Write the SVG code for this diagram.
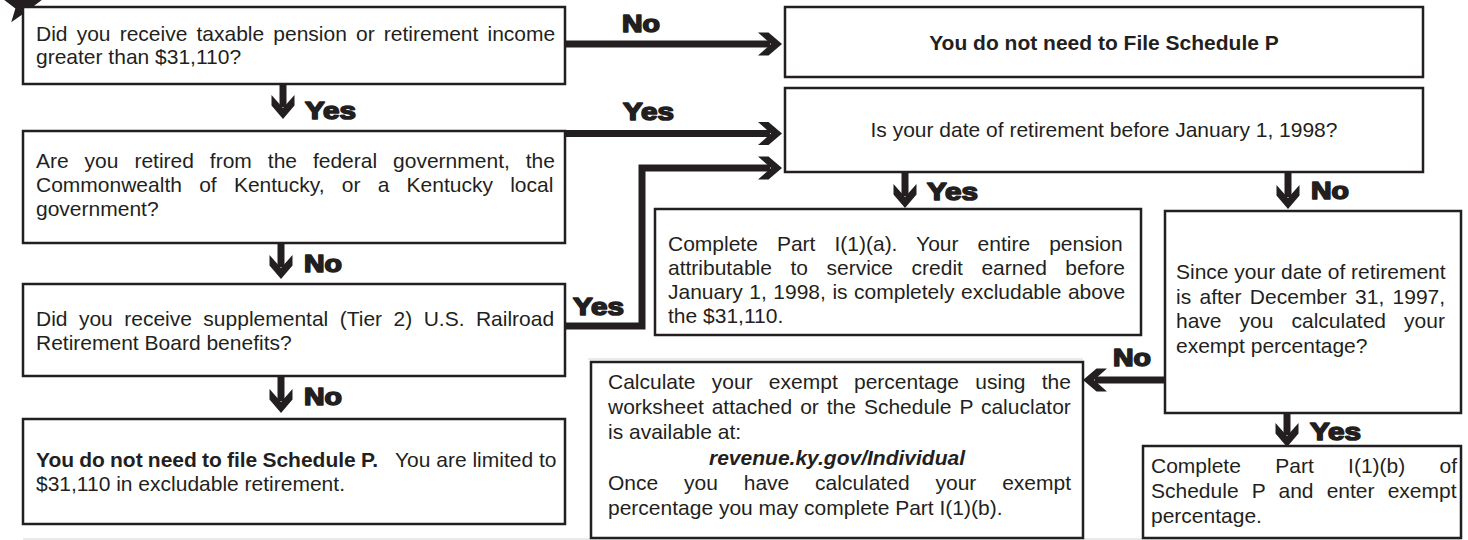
<svg xmlns="http://www.w3.org/2000/svg" xmlns:xlink="http://www.w3.org/1999/xlink" width="1468" height="540" viewBox="0 0 1468 540">
<style>
.box{fill:#fff;stroke:#231f20;stroke-width:2.5}
.t{font-family:"Liberation Sans",Arial,sans-serif;font-size:21px;fill:#231f20}
.b{font-weight:bold}
.bi{font-weight:bold;font-style:italic}
.lbl{font-family:"Liberation Sans",Arial,sans-serif;font-size:24px;font-weight:bold;fill:#231f20;stroke:#231f20;stroke-width:1.6;stroke-linejoin:round}
.shaft{fill:none;stroke:#231f20;stroke-width:7;stroke-linejoin:miter}
.chev{fill:#231f20}
.faint{stroke:#e3e3e3;stroke-width:1.5;fill:none}
</style>
<defs>
<polygon id="chev" class="chev" points="-24,-11.5 -13.5,-11.5 0,0 -13.5,11.5 -24,11.5 -11,0"/>
</defs>
<rect width="1468" height="540" fill="#fff"/>
<g id="faint-lines">
<line class="faint" x1="23" y1="539" x2="1461" y2="539"/>
<line class="faint" x1="588" y1="359" x2="1083" y2="359"/>
</g>
<g id="start-star">
<polygon fill="#231f20" points="23,-14 27.7,-0.5 42,-0.2 30.6,8.5 34.8,22.2 23,14 11.2,22.2 15.4,8.5 4,-0.2 18.3,-0.5"/>
</g>
<g id="q-taxable">
<rect class="box" x="23" y="7" width="542" height="77"/>
<text class="t" x="36" y="41" word-spacing="3.3">Did you receive taxable pension or retirement income</text>
<text class="t" x="36" y="64">greater than $31,110?</text>
</g>
<g id="end-no-file">
<rect class="box" x="785" y="7" width="638" height="70"/>
<text class="t b" x="1104" y="49.5" text-anchor="middle">You do not need to File Schedule P</text>
</g>
<g id="q-government">
<rect class="box" x="23" y="131" width="542" height="112"/>
<text class="t" x="36" y="168" word-spacing="10.1">Are you retired from the federal government, the</text>
<text class="t" x="36" y="192" word-spacing="11.4">Commonwealth of Kentucky, or a Kentucky local</text>
<text class="t" x="36" y="216">government?</text>
</g>
<g id="q-date">
<rect class="box" x="785" y="88" width="638" height="84"/>
<text class="t" x="1104" y="137" text-anchor="middle">Is your date of retirement before January 1, 1998?</text>
</g>
<g id="q-railroad">
<rect class="box" x="23" y="284" width="542" height="92"/>
<text class="t" x="36" y="326" word-spacing="5.6">Did you receive supplemental (Tier 2) U.S. Railroad</text>
<text class="t" x="36" y="350">Retirement Board benefits?</text>
</g>
<g id="end-limited">
<rect class="box" x="23" y="419" width="542" height="105"/>
<text class="t b" x="36" y="467" word-spacing="-0.7">You do not need to file Schedule P.</text>
<text class="t" x="395" y="467">You are limited to</text>
<text class="t" x="36" y="491">$31,110 in excludable retirement.</text>
</g>
<g id="part-1a">
<rect class="box" x="655" y="209" width="486" height="126"/>
<text class="t" x="668" y="251" word-spacing="13.2">Complete Part I(1)(a). Your entire pension</text>
<text class="t" x="668" y="275" word-spacing="12.7">attributable to service credit earned before</text>
<text class="t" x="668" y="299" word-spacing="0.7">January 1, 1998, is completely excludable above</text>
<text class="t" x="668" y="323">the $31,110.</text>
</g>
<g id="q-calculated">
<rect class="box" x="1165" y="211" width="296" height="202"/>
<text class="t" x="1176" y="279">Since your date of retirement</text>
<text class="t" x="1176" y="303.5" word-spacing="2.5">is after December 31, 1997,</text>
<text class="t" x="1176" y="328" word-spacing="12.2">have you calculated your</text>
<text class="t" x="1176" y="352.5">exempt percentage?</text>
</g>
<g id="calculate">
<rect class="box" x="591" y="362" width="492" height="176"/>
<text class="t" x="608" y="389" word-spacing="10.4">Calculate your exempt percentage using the</text>
<text class="t" x="608" y="414" word-spacing="2.1">worksheet attached or the Schedule P caluclator</text>
<text class="t" x="608" y="439">is available at:</text>
<text class="t bi" x="837" y="464.5" text-anchor="middle">revenue.ky.gov/Individual</text>
<text class="t" x="608" y="490" word-spacing="20">Once you have calculated your exempt</text>
<text class="t" x="608" y="515">percentage you may complete Part I(1)(b).</text>
</g>
<g id="part-1b">
<rect class="box" x="1143" y="446" width="318" height="92"/>
<text class="t" x="1151" y="473" word-spacing="28.5">Complete Part I(1)(b) of</text>
<text class="t" x="1151" y="498" word-spacing="7.3">Schedule P and enter exempt</text>
<text class="t" x="1151" y="523">percentage.</text>
</g>
<g id="connectors">
<path class="shaft" d="M565,44 H770"/>
<use xlink:href="#chev" href="#chev" transform="translate(782,44)"/>
<path class="shaft" d="M565,133.5 H770"/>
<use xlink:href="#chev" href="#chev" transform="translate(782,133.5)"/>
<path class="shaft" d="M565,326 H642 V168 H770"/>
<use xlink:href="#chev" href="#chev" transform="translate(782,168)"/>
<path class="shaft" d="M283,84 V107"/>
<use xlink:href="#chev" href="#chev" transform="translate(283,119) rotate(90)"/>
<path class="shaft" d="M281,243 V267"/>
<use xlink:href="#chev" href="#chev" transform="translate(281,279) rotate(90)"/>
<path class="shaft" d="M281,376 V401"/>
<use xlink:href="#chev" href="#chev" transform="translate(281,413) rotate(90)"/>
<path class="shaft" d="M905,172 V196"/>
<use xlink:href="#chev" href="#chev" transform="translate(905,208) rotate(90)"/>
<path class="shaft" d="M1288,172 V197"/>
<use xlink:href="#chev" href="#chev" transform="translate(1288,209) rotate(90)"/>
<path class="shaft" d="M1164,380 H1095"/>
<use xlink:href="#chev" href="#chev" transform="translate(1083,380) rotate(180)"/>
<path class="shaft" d="M1287,413 V435"/>
<use xlink:href="#chev" href="#chev" transform="translate(1287,447) rotate(90)"/>
</g>
<g id="labels">
<text class="lbl" x="622" y="32" textLength="38" lengthAdjust="spacingAndGlyphs">No</text>
<text class="lbl" x="623" y="120" textLength="51" lengthAdjust="spacingAndGlyphs">Yes</text>
<text class="lbl" x="573" y="315" textLength="51" lengthAdjust="spacingAndGlyphs">Yes</text>
<text class="lbl" x="305" y="119" textLength="51" lengthAdjust="spacingAndGlyphs">Yes</text>
<text class="lbl" x="304" y="272" textLength="38" lengthAdjust="spacingAndGlyphs">No</text>
<text class="lbl" x="304" y="405" textLength="38" lengthAdjust="spacingAndGlyphs">No</text>
<text class="lbl" x="927" y="200" textLength="51" lengthAdjust="spacingAndGlyphs">Yes</text>
<text class="lbl" x="1311" y="199" textLength="38" lengthAdjust="spacingAndGlyphs">No</text>
<text class="lbl" x="1113" y="366" textLength="38" lengthAdjust="spacingAndGlyphs">No</text>
<text class="lbl" x="1310" y="440" textLength="51" lengthAdjust="spacingAndGlyphs">Yes</text>
</g>
</svg>
